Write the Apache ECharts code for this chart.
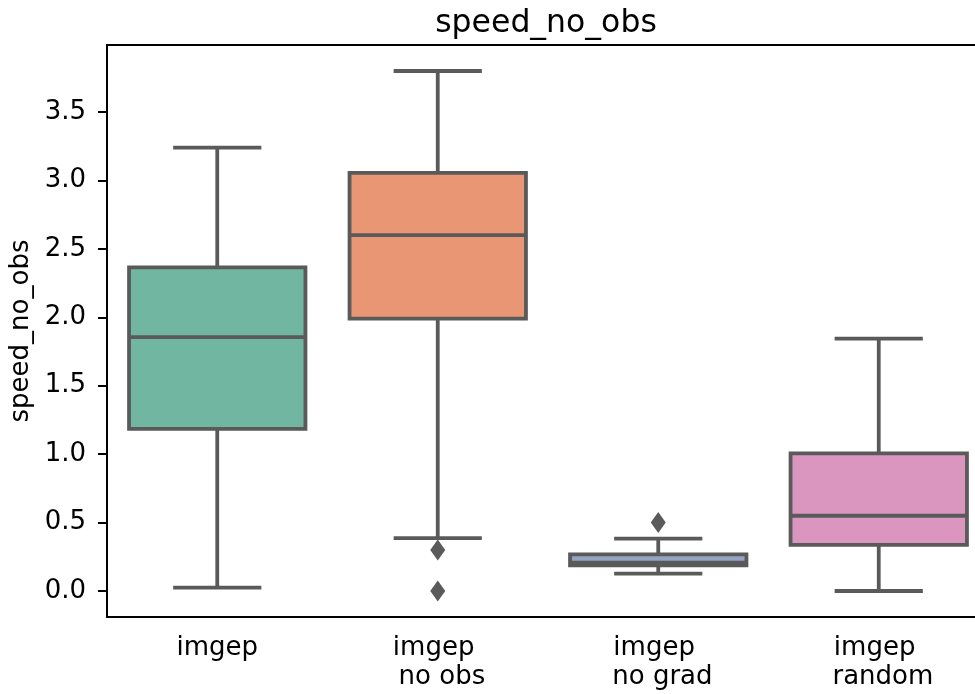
<!DOCTYPE html>
<html>
<head>
<meta charset="utf-8">
<script src="https://cdn.jsdelivr.net/npm/echarts@6/dist/echarts.min.js"></script>
<style>
html,body{margin:0;padding:0;background:#fff;}
#chart{width:975px;height:694px;}
</style>
</head>
<body>
<div id="chart"></div>
<script>
const categories = ['imgep', 'imgep \n no obs', 'imgep \n no grad', 'imgep \n random'];
const whiskerLow = [0.024, 0.386, 0.127, 0.0];
const q1 = [1.185, 1.99, 0.188, 0.337];
const median = [1.855, 2.60, 0.207, 0.55];
const q3 = [2.365, 3.055, 0.267, 1.005];
const whiskerHigh = [3.24, 3.80, 0.383, 1.845];
const outliers = [[1, 0.30], [1, 0.0], [2, 0.50]];
const yTicks = [0, 0.5, 1.0, 1.5, 2.0, 2.5, 3.0, 3.5];
const boxColors = ['#71b6a1', '#e99675', '#95a3c3', '#db96c0'];
const edge = '#5a5a5a';
const FONT = 'DejaVu Sans';

const boxData = categories.map((c, i) => [i, whiskerLow[i], q1[i], median[i], q3[i], whiskerHigh[i]]);

const chart = echarts.init(document.getElementById('chart'), null, {renderer: 'canvas'});
chart.setOption({
  animation: false,
  backgroundColor: '#fff',
  title: {
    text: 'speed_no_obs',
    left: 541, top: 3, textAlign: 'center',
    textStyle: {fontFamily: FONT, fontSize: 31.5, fontWeight: 'normal', color: '#000'}
  },
  grid: {left: 107, top: 45, width: 882, height: 572, show: true, borderColor: '#000', borderWidth: 2,
    containLabel: false, outerBoundsMode: 'none'},
  xAxis: {
    type: 'category', data: categories, boundaryGap: true,
    axisLine: {onZero: false, lineStyle: {color: '#000', width: 2}},
    axisTick: {alignWithLabel: true, length: 9, lineStyle: {color: '#000', width: 2}},
    axisLabel: {fontFamily: FONT, fontSize: 26, color: '#000', margin: 17, lineHeight: 29, interval: 0},
    splitLine: {show: false}
  },
  yAxis: {
    type: 'value', min: -0.19, max: 3.99,
    name: 'speed_no_obs', nameLocation: 'middle', nameRotate: 90, nameGap: 72,
    nameTextStyle: {fontFamily: FONT, fontSize: 26, color: '#000'},
    axisLine: {show: true, onZero: false, lineStyle: {color: '#000', width: 2}},
    axisTick: {show: true, length: 9, lineStyle: {color: '#000', width: 2}, customValues: yTicks},
    axisLabel: {fontFamily: FONT, fontSize: 26, color: '#000', margin: 21, customValues: yTicks,
      formatter: v => Number(v).toFixed(1)},
    splitLine: {show: false}
  },
  series: [
    {
      type: 'custom',
      data: boxData,
      encode: {x: 0, y: [1, 2, 3, 4, 5]},
      renderItem: function (params, api) {
        const i = api.value(0);
        const bw = api.size([1, 0])[0] * 0.8;
        const cw = bw * 0.5;
        const pLow = api.coord([i, api.value(1)]);
        const pQ1 = api.coord([i, api.value(2)]);
        const pMed = api.coord([i, api.value(3)]);
        const pQ3 = api.coord([i, api.value(4)]);
        const pHigh = api.coord([i, api.value(5)]);
        const x = pQ1[0];
        const ls = {stroke: edge, lineWidth: 3.8, fill: null};
        return {
          type: 'group',
          children: [
            {type: 'line', shape: {x1: x, y1: pQ1[1], x2: x, y2: pLow[1]}, style: ls},
            {type: 'line', shape: {x1: x, y1: pQ3[1], x2: x, y2: pHigh[1]}, style: ls},
            {type: 'line', shape: {x1: x - cw / 2, y1: pLow[1], x2: x + cw / 2, y2: pLow[1]}, style: ls},
            {type: 'line', shape: {x1: x - cw / 2, y1: pHigh[1], x2: x + cw / 2, y2: pHigh[1]}, style: ls},
            {type: 'rect', shape: {x: x - bw / 2, y: pQ3[1], width: bw, height: pQ1[1] - pQ3[1]},
              style: {fill: boxColors[i], stroke: edge, lineWidth: 3.8}},
            {type: 'line', shape: {x1: x - bw / 2, y1: pMed[1], x2: x + bw / 2, y2: pMed[1]}, style: ls}
          ]
        };
      },
      z: 2
    },
    {
      type: 'scatter',
      data: outliers,
      symbol: 'diamond',
      symbolSize: [15, 21],
      itemStyle: {color: edge, opacity: 1},
      z: 3
    }
  ]
});
</script>
</body>
</html>
